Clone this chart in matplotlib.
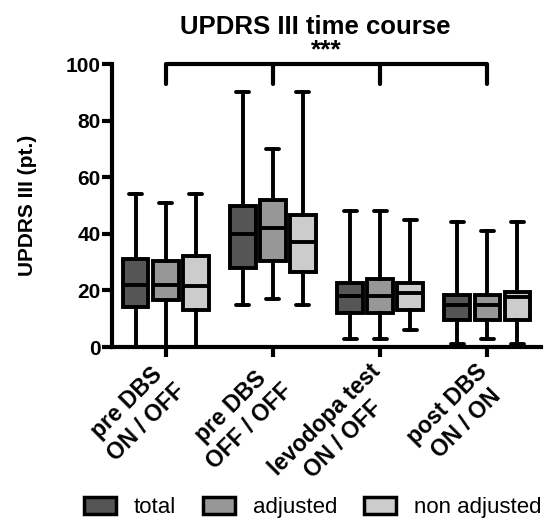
import numpy as np
import matplotlib
matplotlib.use("Agg")
import matplotlib.pyplot as plt
from matplotlib.patches import Patch
from matplotlib.transforms import ScaledTranslation

plt.rcParams['font.family'] = ['Liberation Sans', 'DejaVu Sans']

# categories on the x axis
groups = ['pre DBS\nON / OFF', 'pre DBS\nOFF / OFF', 'levodopa test\nON / OFF', 'post DBS\nON / ON']
series = ['total', 'adjusted', 'non adjusted']

# five-number summaries
total_min = [0, 15, 3, 1]
total_q1 = [14, 28, 12, 9.5]
total_med = [22, 40, 18, 15]
total_q3 = [31, 50, 22.5, 18.5]
total_max = [54, 90, 48, 44]

adjusted_min = [0, 17, 3, 3]
adjusted_q1 = [16.5, 30.5, 12, 9.5]
adjusted_med = [22, 42, 18, 15]
adjusted_q3 = [30.5, 52, 24, 18.5]
adjusted_max = [51, 70, 48, 41]

nonadj_min = [0, 15, 6, 1]
nonadj_q1 = [13, 26.5, 13, 9.5]
nonadj_med = [21.5, 37, 19, 17.5]
nonadj_q3 = [32, 46.5, 22.5, 19.5]
nonadj_max = [54, 90, 45, 44]

colors = ['#555555', '#979797', '#cccccc']


def make_stats(lo, q1, med, q3, hi):
    # build the dicts that Axes.bxp wants
    return [dict(whislo=a, q1=b, med=c, q3=d, whishi=e, fliers=[])
            for a, b, c, d, e in zip(lo, q1, med, q3, hi)]


all_stats = [
    make_stats(total_min, total_q1, total_med, total_q3, total_max),
    make_stats(adjusted_min, adjusted_q1, adjusted_med, adjusted_q3, adjusted_max),
    make_stats(nonadj_min, nonadj_q1, nonadj_med, nonadj_q3, nonadj_max),
]

fig = plt.figure(figsize=(5.44, 5.18), dpi=100)
ax = fig.add_axes([0.2059, 0.3301, 0.7886, 0.5463])

x = np.arange(len(groups))
offsets = [-0.28, 0.0, 0.28]
lw = 2.8

for stats, off, col in zip(all_stats, offsets, colors):
    ax.bxp(stats, positions=x + off, widths=0.24, patch_artist=True,
           showfliers=False, manage_ticks=False,
           boxprops=dict(facecolor=col, edgecolor='black', linewidth=lw),
           medianprops=dict(color='black', linewidth=lw),
           whiskerprops=dict(color='black', linewidth=lw),
           capprops=dict(color='black', linewidth=lw, solid_capstyle='round'),
           capwidths=0.12)

ax.set_xlim(-0.5, 3.5)
ax.set_ylim(0, 100)
ax.set_yticks([0, 20, 40, 60, 80, 100])
ax.set_xticks(x)
ax.set_xticklabels(groups, rotation=45, ha='right', va='center',
                   rotation_mode='anchor', multialignment='center',
                   fontsize=16.5, fontweight='bold')
for lab in ax.get_yticklabels():
    lab.set_fontsize(15)
    lab.set_fontweight('bold')
ax.tick_params(axis='both', width=3, length=7)
ax.tick_params(axis='y', pad=1)
ax.tick_params(axis='x', pad=15)
shift = ScaledTranslation(6 / 100, 0, fig.dpi_scale_trans)
for lab in ax.get_xticklabels():
    lab.set_transform(lab.get_transform() + shift)

for s in ['top', 'right']:
    ax.spines[s].set_visible(False)
for s in ['left', 'bottom']:
    ax.spines[s].set_linewidth(3)

ax.set_ylabel('UPDRS III (pt.)', fontsize=15, fontweight='bold', labelpad=21)

# significance bracket over all four time points
ax.plot([x[0], x[-1]], [100, 100], color='black', lw=3, clip_on=False,
        solid_capstyle='butt')
for xi in x:
    ax.plot([xi, xi], [100, 93], color='black', lw=3, clip_on=False,
            solid_capstyle='round')
ax.text(x.mean(), 105, '***', ha='center', va='center', fontsize=19,
        fontweight='bold')

fig.text(315 / 544, 1 - 27 / 518, 'UPDRS III time course', ha='center',
         va='center', fontsize=18.5, fontweight='bold')

handles = [Patch(facecolor=c, edgecolor='black', linewidth=2.5) for c in colors]
fig.legend(handles, series, loc='center', bbox_to_anchor=(0.575, 0.02),
           ncol=3, frameon=False, fontsize=16, handlelength=1.45,
           handleheight=0.8, handletextpad=0.8, columnspacing=1.2,
           borderpad=0, borderaxespad=0)

fig.savefig('out.png', dpi=100)
